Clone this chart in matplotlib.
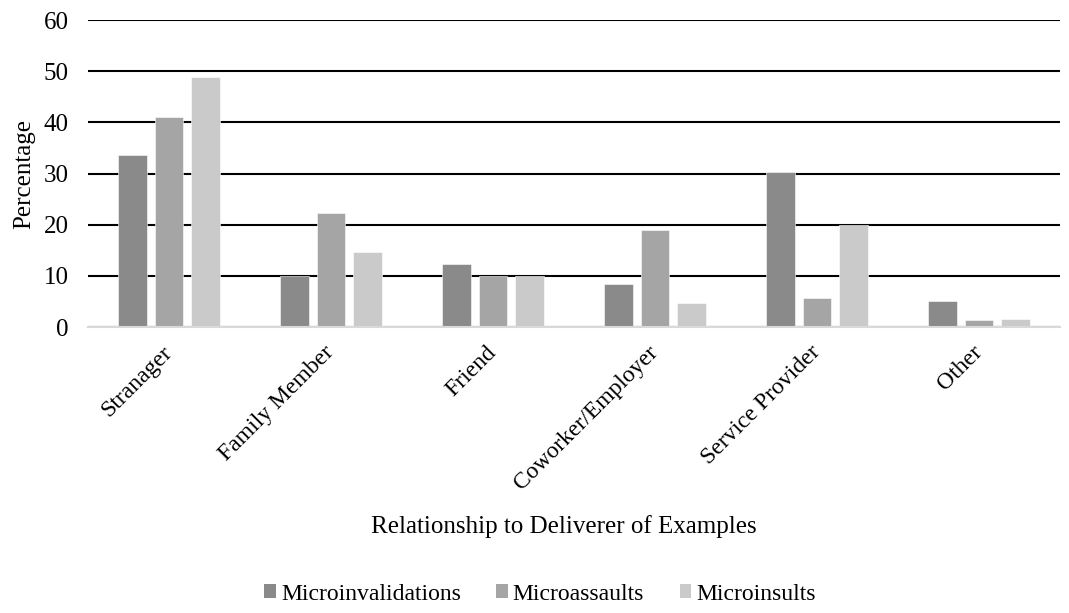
import numpy as np
import matplotlib
matplotlib.use("Agg")
import matplotlib.pyplot as plt
from matplotlib.patches import Patch

plt.rcParams['font.family'] = ['Liberation Serif', 'DejaVu Serif']

categories = ["Stranager", "Family Member", "Friend", "Coworker/Employer",
              "Service Provider", "Other"]
series_names = ["Microinvalidations", "Microassaults", "Microinsults"]
microinvalidations = [33.7, 9.9, 12.4, 8.5, 30.2, 5.1]
microassaults = [41.1, 22.2, 9.9, 19.0, 5.7, 1.4]
microinsults = [48.9, 14.6, 9.9, 4.7, 20.0, 1.6]
y_ticks = [0, 10, 20, 30, 40, 50, 60]

colors = ["#8a8a8a", "#a5a5a5", "#cacaca"]
series = [microinvalidations, microassaults, microinsults]

W, H = 1069, 613
fig = plt.figure(figsize=(W / 100, H / 100), dpi=100)
ax = fig.add_axes([88 / W, 286 / H, 972 / W, 307 / H])

x = np.arange(len(categories))
width = 0.178
step = 0.225
for i, (vals, name, c) in enumerate(zip(series, series_names, colors)):
    ax.bar(x + (i - 1) * step, vals, width, color=c, label=name,
           edgecolor="white", linewidth=0.4, zorder=3)

ax.set_xlim(-0.5, len(categories) - 0.5)
ax.set_ylim(0, 60)
ax.set_yticks(y_ticks)
ax.yaxis.grid(True, color="black", linewidth=1.5, zorder=0)
ax.set_axisbelow(True)
for s in ["top", "right", "left"]:
    ax.spines[s].set_visible(False)
ax.spines["bottom"].set_color("#d9d9d9")
ax.spines["bottom"].set_linewidth(1.5)
ax.spines["bottom"].set_zorder(4)
ax.tick_params(axis="y", length=0, labelsize=18, pad=14)
ax.tick_params(axis="x", length=0, labelsize=17, pad=16)
ax.set_xticks(x)
ax.set_xticklabels(categories, rotation=45, ha="right", va="center",
                   rotation_mode="anchor")

fig.text(24 / W, 1 - 174 / H, "Percentage", rotation=90, fontsize=18,
         ha="center", va="center")
fig.text(371 / W, 1 - 527 / H, "Relationship to Deliverer of Examples",
         fontsize=18, ha="left", va="center")

handles = [Patch(facecolor=c, edgecolor="none") for c in colors]
fig.legend(handles, series_names, loc="center", bbox_to_anchor=(540 / W, 1 - 594 / H),
           ncol=3, frameon=False, fontsize=17, handlelength=0.5, handleheight=0.5,
           handletextpad=0.2, columnspacing=1.5, borderpad=0, borderaxespad=0)

fig.savefig("out.png", dpi=100)
